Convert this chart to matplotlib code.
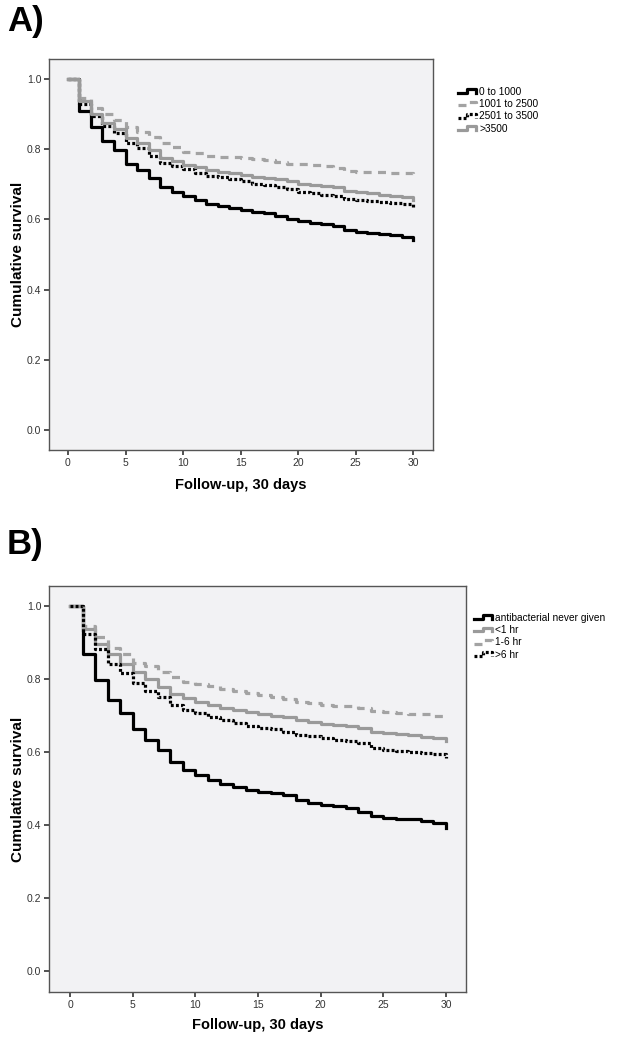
import numpy as np
import matplotlib
matplotlib.use("Agg")
import matplotlib.pyplot as plt
from matplotlib.legend_handler import HandlerLine2D
from matplotlib.lines import Line2D

plt.rcParams['font.family'] = ['Liberation Sans', 'DejaVu Sans']

# Follow-up days (step at each day, last point is the final drop at day 30)
days = np.arange(0, 31)

# Panel A: survival by group
a_labels = ["0 to 1000", "1001 to 2500", "2501 to 3500", ">3500"]
a_0_1000 = [1.0, 0.909, 0.862, 0.824, 0.797, 0.759, 0.741, 0.718, 0.692, 0.678, 0.668,
            0.656, 0.645, 0.639, 0.632, 0.627, 0.622, 0.617, 0.610, 0.601, 0.595,
            0.591, 0.586, 0.580, 0.570, 0.565, 0.562, 0.559, 0.555, 0.549, 0.540]
a_1001_2500 = [1.0, 0.947, 0.918, 0.900, 0.884, 0.862, 0.850, 0.835, 0.819, 0.807, 0.793,
               0.788, 0.782, 0.779, 0.777, 0.775, 0.772, 0.768, 0.763, 0.759, 0.757,
               0.754, 0.752, 0.745, 0.739, 0.736, 0.735, 0.734, 0.733, 0.731, 0.722]
a_2501_3500 = [1.0, 0.930, 0.895, 0.865, 0.845, 0.819, 0.803, 0.781, 0.762, 0.753, 0.743,
               0.733, 0.725, 0.720, 0.714, 0.708, 0.702, 0.697, 0.691, 0.686, 0.678,
               0.674, 0.670, 0.666, 0.658, 0.655, 0.652, 0.650, 0.648, 0.645, 0.636]
a_gt3500 = [1.0, 0.938, 0.900, 0.874, 0.857, 0.831, 0.819, 0.797, 0.776, 0.767, 0.756,
            0.748, 0.741, 0.736, 0.731, 0.727, 0.722, 0.719, 0.715, 0.708, 0.701,
            0.698, 0.696, 0.692, 0.680, 0.677, 0.674, 0.670, 0.668, 0.663, 0.656]

# Panel B: survival by time to antibacterial
b_labels = ["antibacterial never given", "<1 hr", "1-6 hr", ">6 hr"]
b_never = [1.0, 0.868, 0.797, 0.742, 0.707, 0.662, 0.633, 0.606, 0.573, 0.552, 0.537,
           0.524, 0.512, 0.505, 0.497, 0.490, 0.487, 0.483, 0.470, 0.461, 0.455,
           0.452, 0.446, 0.437, 0.425, 0.420, 0.418, 0.416, 0.411, 0.405, 0.392]
b_lt1 = [1.0, 0.938, 0.897, 0.868, 0.842, 0.820, 0.800, 0.778, 0.759, 0.747, 0.737,
         0.728, 0.721, 0.715, 0.710, 0.705, 0.700, 0.695, 0.689, 0.683, 0.678,
         0.675, 0.671, 0.666, 0.656, 0.652, 0.649, 0.646, 0.642, 0.638, 0.630]
b_1_6 = [1.0, 0.944, 0.915, 0.886, 0.868, 0.845, 0.835, 0.820, 0.806, 0.793, 0.786,
         0.780, 0.774, 0.768, 0.762, 0.755, 0.750, 0.746, 0.738, 0.733, 0.729,
         0.727, 0.726, 0.722, 0.712, 0.709, 0.706, 0.704, 0.703, 0.700, 0.692]
b_gt6 = [1.0, 0.923, 0.881, 0.842, 0.817, 0.789, 0.767, 0.751, 0.728, 0.716, 0.707,
         0.696, 0.687, 0.680, 0.672, 0.667, 0.662, 0.656, 0.648, 0.643, 0.638,
         0.634, 0.630, 0.625, 0.612, 0.607, 0.604, 0.601, 0.598, 0.594, 0.585]

x_ticks = [0, 5, 10, 15, 20, 25, 30]
y_ticks = [0.0, 0.2, 0.4, 0.6, 0.8, 1.0]

black = dict(color="black", lw=2.3, ls="-")
gray = dict(color="#9a9a9a", lw=2.3, ls="-")
dashed = dict(color="#a3a3a3", lw=2.3, ls=(0, (2.5, 2.0)))
dotted = dict(color="black", lw=2.3, ls=(0, (0.9, 0.7)))


class StepHandler(HandlerLine2D):
    # little step-shaped legend icon like SPSS
    def create_artists(self, legend, orig_handle, xdescent, ydescent,
                       width, height, fontsize, trans):
        x0 = -xdescent
        y0 = -ydescent
        xs = [x0, x0 + 0.45 * width, x0 + 0.45 * width, x0 + 0.9 * width, x0 + 0.9 * width]
        ys = [y0 + 0.25 * height, y0 + 0.25 * height, y0 + 0.8 * height,
              y0 + 0.8 * height, y0 + 0.25 * height]
        line = Line2D(xs, ys)
        self.update_prop(line, orig_handle, legend)
        line.set_transform(trans)
        return [line]


def style_axes(ax, xlim, ylim, ylab_x, xlab_y):
    ax.set_facecolor("#f2f2f4")
    ax.set_xlim(*xlim)
    ax.set_ylim(*ylim)
    ax.set_xticks(x_ticks)
    ax.set_yticks(y_ticks)
    ax.set_yticklabels(["%.1f" % v for v in y_ticks])
    ax.tick_params(direction="out", length=3.5, width=1.2, labelsize=7.5,
                   colors="#333333", pad=2)
    for s in ax.spines.values():
        s.set_color("#555555")
        s.set_linewidth(1.0)
    ax.set_ylabel("Cumulative survival", fontsize=11, fontweight="bold")
    ax.set_xlabel("Follow-up, 30 days", fontsize=10.5, fontweight="bold")
    ax.yaxis.set_label_coords(ylab_x, 0.5)
    ax.xaxis.set_label_coords(0.5, xlab_y)
    ax.xaxis.label.set_va("center")
    ax.yaxis.label.set_va("center")


fig = plt.figure(figsize=(6.17, 10.44), dpi=100)

# Panel A
axA = fig.add_axes([0.0794, 0.569, 0.622, 0.3745])
hA = []
for vals, st in zip([a_0_1000, a_1001_2500, a_2501_3500, a_gt3500],
                    [black, dashed, dotted, gray]):
    h, = axA.step(days, vals, where="post", **st)
    hA.append(h)
style_axes(axA, (-1.65, 31.7), (-0.057, 1.057), -0.08, -0.09)
fig.text(0.011, 1 - 5 / 1044, "A)", fontsize=25, fontweight="bold", va="top")
fig.legend(hA, a_labels, loc="upper left", bbox_to_anchor=(458 / 617, 1 - 87 / 1044),
           frameon=False, fontsize=7.3, handlelength=2.0, handletextpad=0.1,
           labelspacing=0.22, borderpad=0, borderaxespad=0,
           handler_map={Line2D: StepHandler()})

# Panel B
axB = fig.add_axes([0.0794, 0.0498, 0.676, 0.389])
hB = []
for vals, st in zip([b_never, b_lt1, b_1_6, b_gt6], [black, gray, dashed, dotted]):
    h, = axB.step(days, vals, where="post", **st)
    hB.append(h)
style_axes(axB, (-1.68, 31.6), (-0.057, 1.055), -0.075, -0.082)
fig.text(0.011, 1 - 528 / 1044, "B)", fontsize=25, fontweight="bold", va="top")
fig.legend(hB, b_labels, loc="upper left", bbox_to_anchor=(474 / 617, 1 - 613 / 1044),
           frameon=False, fontsize=7.3, handlelength=2.0, handletextpad=0.1,
           labelspacing=0.22, borderpad=0, borderaxespad=0,
           handler_map={Line2D: StepHandler()})

fig.savefig("out.png", dpi=100)
